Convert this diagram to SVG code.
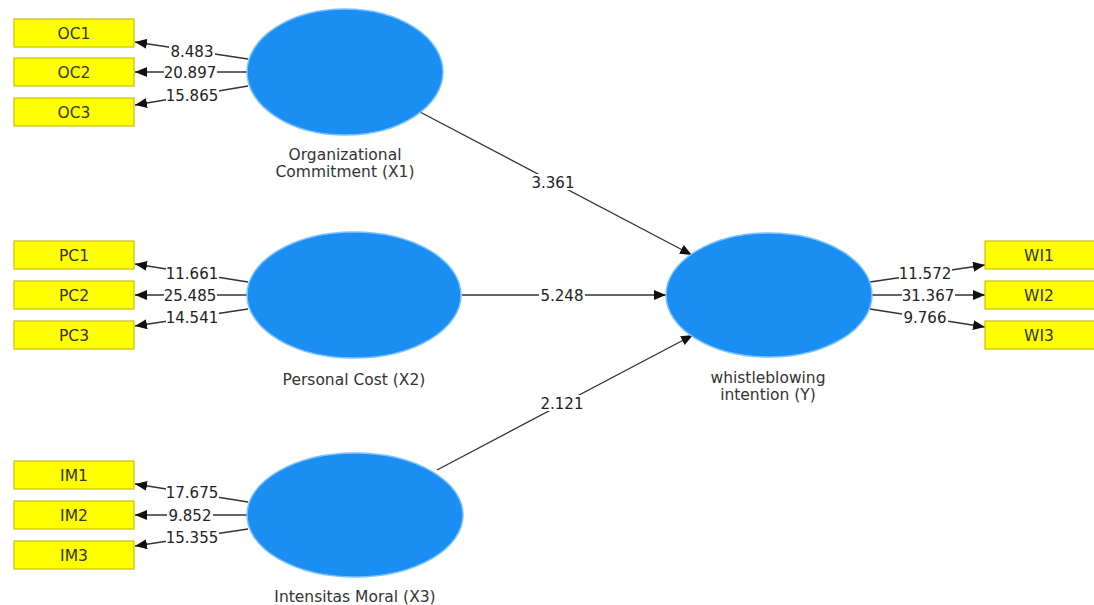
<svg xmlns="http://www.w3.org/2000/svg" width="1094" height="605" viewBox="0 0 1094 605">
<defs>
<marker id="arr" markerUnits="userSpaceOnUse" markerWidth="13" markerHeight="11" refX="12" refY="5" orient="auto">
<path d="M0,0 L12,5 L0,10 z" fill="#111"/>
</marker>
<style>
.lat{fill:#1b8ef3;stroke:#7cc2ff;stroke-width:1.5}
.ind{fill:#ffff00;stroke:#c9c200;stroke-width:1.2}
.it{font-family:"DejaVu Sans",Verdana,sans-serif;font-size:15.5px;fill:#333;text-anchor:middle}
.lt{font-family:"DejaVu Sans",Verdana,sans-serif;font-size:15.5px;fill:#333;text-anchor:middle}
.ln{stroke:#333;stroke-width:1.3;fill:none;marker-end:url(#arr)}
.bg{fill:#fff}
.nt{font-family:"DejaVu Sans",Verdana,sans-serif;font-size:15px;fill:#222;text-anchor:middle}
</style>
</defs>
<rect width="1094" height="605" fill="#fff"/>

<g id="connectors">
<line class="ln" x1="248" y1="59" x2="135" y2="42"/>
<line class="ln" x1="248" y1="72" x2="135" y2="72"/>
<line class="ln" x1="248" y1="86" x2="135" y2="105"/>
<line class="ln" x1="248" y1="282" x2="135" y2="264"/>
<line class="ln" x1="248" y1="295" x2="135" y2="295"/>
<line class="ln" x1="248" y1="309" x2="135" y2="326"/>
<line class="ln" x1="248" y1="502" x2="135" y2="484"/>
<line class="ln" x1="248" y1="515" x2="135" y2="515"/>
<line class="ln" x1="248" y1="529" x2="135" y2="546"/>
<line class="ln" x1="870" y1="282" x2="985" y2="265"/>
<line class="ln" x1="872" y1="295" x2="985" y2="295"/>
<line class="ln" x1="870" y1="309" x2="985" y2="327"/>
<line class="ln" x1="420" y1="112" x2="692" y2="255"/>
<line class="ln" x1="462" y1="295" x2="666" y2="295"/>
<line class="ln" x1="437" y1="470" x2="693" y2="335"/>

<rect class="bg" x="169" y="43" width="46" height="16"/><text class="nt" x="192" y="56.5">8.483</text>
<rect class="bg" x="164" y="64" width="53" height="16"/><text class="nt" x="190" y="77.5">20.897</text>
<rect class="bg" x="166" y="87" width="53" height="16"/><text class="nt" x="192" y="100.5">15.865</text>
<rect class="bg" x="166" y="265" width="53" height="16"/><text class="nt" x="192" y="278.5">11.661</text>
<rect class="bg" x="164" y="287" width="53" height="16"/><text class="nt" x="190" y="300.5">25.485</text>
<rect class="bg" x="166" y="309" width="53" height="16"/><text class="nt" x="192" y="322.5">14.541</text>
<rect class="bg" x="166" y="484" width="53" height="16"/><text class="nt" x="192" y="497.5">17.675</text>
<rect class="bg" x="167" y="507" width="46" height="16"/><text class="nt" x="190" y="520.5">9.852</text>
<rect class="bg" x="166" y="529" width="53" height="16"/><text class="nt" x="192" y="542.5">15.355</text>
<rect class="bg" x="899" y="265" width="53" height="16"/><text class="nt" x="925" y="278.5">11.572</text>
<rect class="bg" x="902" y="287" width="53" height="16"/><text class="nt" x="928" y="300.5">31.367</text>
<rect class="bg" x="902" y="309" width="46" height="16"/><text class="nt" x="925" y="322.5">9.766</text>
<rect class="bg" x="530" y="174" width="46" height="16"/><text class="nt" x="553" y="187.5">3.361</text>
<rect class="bg" x="539" y="287" width="46" height="16"/><text class="nt" x="562" y="300.5">5.248</text>
<rect class="bg" x="539" y="395" width="46" height="16"/><text class="nt" x="562" y="408.5">2.121</text>
</g>

<g id="node-OC"><ellipse class="lat" cx="345" cy="72" rx="98" ry="63"/>
<text class="lt" x="345" y="160">Organizational</text><text class="lt" x="345" y="177">Commitment (X1)</text></g>
<g id="node-PC"><ellipse class="lat" cx="354" cy="295" rx="107" ry="63"/>
<text class="lt" x="354" y="385">Personal Cost (X2)</text></g>
<g id="node-IM"><ellipse class="lat" cx="355" cy="515" rx="108" ry="62"/>
<text class="lt" x="355" y="602">Intensitas Moral (X3)</text></g>
<g id="node-WI"><ellipse class="lat" cx="769" cy="295" rx="103" ry="62"/>
<text class="lt" x="768" y="383">whistleblowing</text><text class="lt" x="768" y="400">intention (Y)</text></g>

<g id="node-OC1"><rect class="ind" x="14" y="19" width="120" height="28"/><text class="it" x="74" y="38.5">OC1</text></g>
<g id="node-OC2"><rect class="ind" x="14" y="58" width="120" height="28"/><text class="it" x="74" y="77.5">OC2</text></g>
<g id="node-OC3"><rect class="ind" x="14" y="98" width="120" height="28"/><text class="it" x="74" y="117.5">OC3</text></g>
<g id="node-PC1"><rect class="ind" x="14" y="241" width="120" height="28"/><text class="it" x="74" y="260.5">PC1</text></g>
<g id="node-PC2"><rect class="ind" x="14" y="281" width="120" height="28"/><text class="it" x="74" y="300.5">PC2</text></g>
<g id="node-PC3"><rect class="ind" x="14" y="321" width="120" height="28"/><text class="it" x="74" y="340.5">PC3</text></g>
<g id="node-IM1"><rect class="ind" x="14" y="461" width="120" height="28"/><text class="it" x="74" y="480.5">IM1</text></g>
<g id="node-IM2"><rect class="ind" x="14" y="501" width="120" height="28"/><text class="it" x="74" y="520.5">IM2</text></g>
<g id="node-IM3"><rect class="ind" x="14" y="541" width="120" height="28"/><text class="it" x="74" y="560.5">IM3</text></g>
<g id="node-WI1"><rect class="ind" x="985" y="241" width="120" height="28"/><text class="it" x="1039" y="260.5">WI1</text></g>
<g id="node-WI2"><rect class="ind" x="985" y="281" width="120" height="28"/><text class="it" x="1039" y="300.5">WI2</text></g>
<g id="node-WI3"><rect class="ind" x="985" y="321" width="120" height="28"/><text class="it" x="1039" y="340.5">WI3</text></g>
</svg>
